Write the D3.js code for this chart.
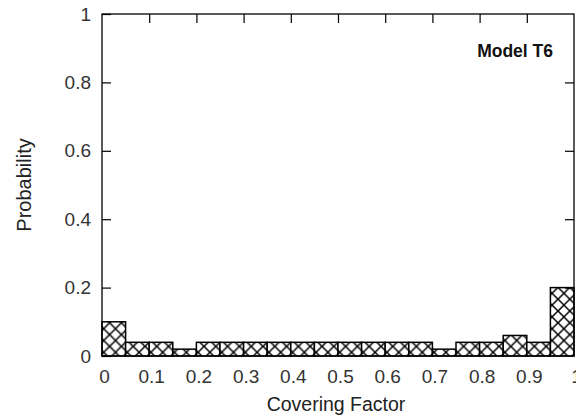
<!DOCTYPE html>
<html>
<head>
<meta charset="utf-8">
<script src="https://cdn.jsdelivr.net/npm/d3@7"></script>
<style>
  html, body { margin: 0; padding: 0; background: #fff; }
  svg { display: block; font-family: "Liberation Sans", Arial, sans-serif; }
</style>
</head>
<body>
<div id="chart"></div>
<script>
// Histograma de factor de cobertura (modelo T6)
const binStarts = [0, 0.05, 0.10, 0.15, 0.20, 0.25, 0.30, 0.35, 0.40, 0.45,
                   0.50, 0.55, 0.60, 0.65, 0.70, 0.75, 0.80, 0.85, 0.90, 0.95];
const probs = [0.10, 0.04, 0.04, 0.02, 0.04, 0.04, 0.04, 0.04, 0.04, 0.04,
               0.04, 0.04, 0.04, 0.04, 0.02, 0.04, 0.04, 0.06, 0.04, 0.20];
const binWidth = 0.05;
const xTicks = [0, 0.1, 0.2, 0.3, 0.4, 0.5, 0.6, 0.7, 0.8, 0.9, 1];
const xTickLabels = ['0', '0.1', '0.2', '0.3', '0.4', '0.5', '0.6', '0.7', '0.8', '0.9', '1'];
const yTicks = [0, 0.2, 0.4, 0.6, 0.8, 1];
const yTickLabels = ['0', '0.2', '0.4', '0.6', '0.8', '1'];

const W = 576, H = 415;
const m = { left: 102, right: 2, top: 14, bottom: 59 };
const iw = W - m.left - m.right, ih = H - m.top - m.bottom;

const x = d3.scaleLinear().domain([0, 1]).range([0, iw]);
const y = d3.scaleLinear().domain([0, 1]).range([ih, 0]);

const svg = d3.select('#chart').append('svg').attr('width', W).attr('height', H);
const g = svg.append('g').attr('transform', `translate(${m.left},${m.top})`);

// patrón cruzado, alineado con el origen del gráfico
const pw = (x(binWidth) - x(0)) / 2;
const pat = svg.append('defs').append('pattern')
  .attr('id', 'hatch')
  .attr('patternUnits', 'userSpaceOnUse')
  .attr('x', m.left).attr('y', m.top + ih)
  .attr('width', pw).attr('height', pw);
pat.append('rect').attr('width', pw).attr('height', pw).attr('fill', '#fff');
pat.append('path')
  .attr('d', `M0,0L${pw},${pw}M${pw},0L0,${pw}`)
  .attr('stroke', '#000').attr('stroke-width', 1.5).attr('fill', 'none');

// barras
g.selectAll('rect.bar').data(binStarts).enter().append('rect')
  .attr('class', 'bar')
  .attr('x', d => x(d))
  .attr('y', (d, i) => y(probs[i]))
  .attr('width', x(binWidth) - x(0))
  .attr('height', (d, i) => y(0) - y(probs[i]))
  .attr('fill', 'url(#hatch)')
  .attr('stroke', '#000').attr('stroke-width', 1.5);

const tickStyle = sel => {
  sel.select('.domain').remove();
  sel.selectAll('.tick line').attr('stroke', '#000').attr('stroke-width', 1.2);
  sel.selectAll('.tick text').attr('fill', '#333').attr('font-size', 19)
    .attr('font-family', '"Liberation Sans", Arial, sans-serif');
};

// eje izquierdo (etiquetas + marcas hacia dentro)
g.append('g')
  .call(d3.axisLeft(y).tickValues(yTicks).tickSize(-9).tickPadding(11)
    .tickFormat((d, i) => yTickLabels[i]))
  .call(tickStyle);

// eje derecho (solo marcas)
g.append('g').attr('transform', `translate(${iw},0)`)
  .call(d3.axisRight(y).tickValues(yTicks.slice(1, -1)).tickSize(-9).tickFormat(''))
  .call(tickStyle);

// eje superior (solo marcas)
g.append('g')
  .call(d3.axisTop(x).tickValues(xTicks.slice(1, -1)).tickSize(-9).tickFormat(''))
  .call(tickStyle);

// eje inferior (solo etiquetas)
g.append('g').attr('transform', `translate(0,${ih})`)
  .call(d3.axisBottom(x).tickValues(xTicks).tickSize(0).tickPadding(14)
    .tickFormat((d, i) => xTickLabels[i]))
  .call(tickStyle)
  .selectAll('.tick text').attr('dx', 2);

// marco
g.append('rect').attr('width', iw).attr('height', ih)
  .attr('fill', 'none').attr('stroke', '#000').attr('stroke-width', 1.3);

// títulos
svg.append('text')
  .attr('x', m.left + iw / 2 - 2).attr('y', 411)
  .attr('text-anchor', 'middle').attr('font-size', 19.5).attr('fill', '#222')
  .text('Covering Factor');

svg.append('text')
  .attr('transform', `translate(31,${m.top + ih / 2}) rotate(-90)`)
  .attr('text-anchor', 'middle').attr('font-size', 20).attr('fill', '#222')
  .text('Probability');

svg.append('text')
  .attr('x', 553).attr('y', 57)
  .attr('text-anchor', 'end').attr('font-size', 17.5).attr('font-weight', 'bold')
  .attr('fill', '#111')
  .text('Model T6');
</script>
</body>
</html>
